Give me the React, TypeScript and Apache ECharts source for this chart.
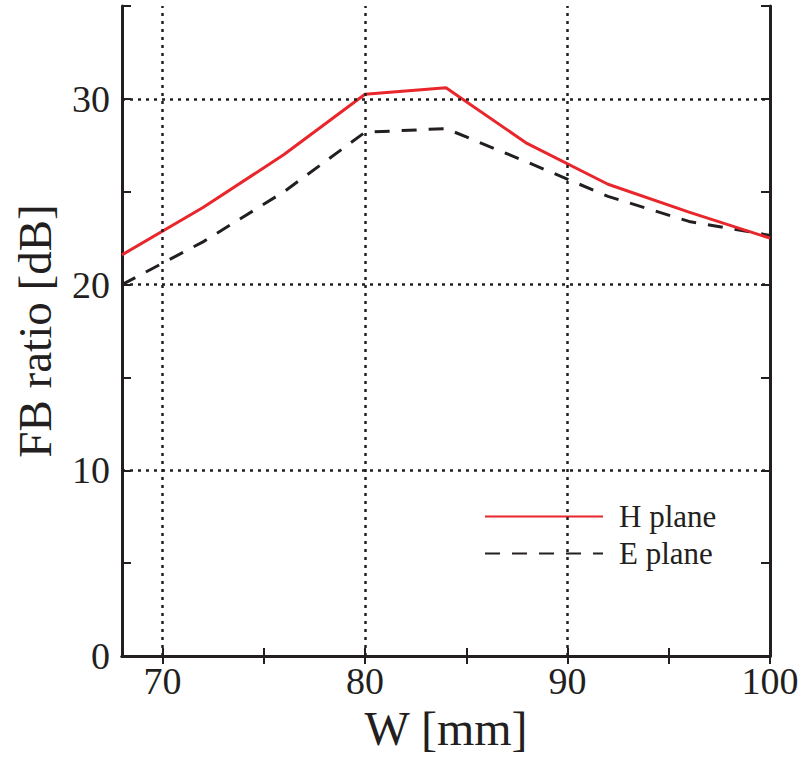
import React, { useEffect, useRef } from "react";
import * as echarts from "echarts";

const widths = [68, 72, 76, 80, 84, 88, 92, 96, 100];
const hPlane = [21.6, 24.15, 27.0, 30.25, 30.6, 27.6, 25.4, 23.9, 22.5];
const ePlane = [20.0, 22.3, 25.0, 28.2, 28.4, 26.6, 24.75, 23.4, 22.65];
const xLabelValues = [70, 80, 90, 100];
const xTickValues = [70, 75, 80, 85, 90, 95, 100];
const xGridValues = [70, 80, 90];
const yGridValues = [10, 20, 30];
const seriesNames = ["H plane", "E plane"];

const FONT = "'Liberation Serif', 'DejaVu Serif', serif";
const TXT = "#231f20";

export default function App() {
  const ref = useRef<HTMLDivElement>(null);
  useEffect(() => {
    if (!ref.current) return;
    const chart = echarts.init(ref.current, null, { renderer: "svg" });
    const axisLine = { show: true, lineStyle: { color: TXT, width: 3 } };
    const gridStyle = { color: TXT, width: 2.5, type: [3, 5] as any };
    chart.setOption({
      animation: false,
      backgroundColor: "#ffffff",
      grid: { left: 122, right: 36, top: 6, bottom: 113, containLabel: false },
      legend: {
        orient: "vertical",
        left: 479,
        top: 496,
        itemWidth: 118,
        itemHeight: 16,
        itemGap: 6,
        data: seriesNames,
        itemStyle: { opacity: 0 },
        textStyle: { fontFamily: FONT, fontSize: 31, color: TXT, padding: [0, 0, 0, 11] },
      },
      xAxis: [
        {
          type: "value",
          min: 68,
          max: 100,
          position: "bottom",
          name: "W [mm]",
          nameLocation: "middle",
          nameGap: 46,
          nameTextStyle: { fontFamily: FONT, fontSize: 48, color: TXT },
          axisLine,
          axisTick: { show: true, inside: true, length: 8, customValues: xTickValues, lineStyle: { color: TXT, width: 2 } },
          axisLabel: { customValues: xLabelValues, fontFamily: FONT, fontSize: 38, color: TXT, margin: 6 },
          splitLine: { show: false },
        },
        {
          type: "value",
          min: 68,
          max: 100,
          position: "top",
          axisLine,
          axisTick: { show: true, inside: true, length: 8, customValues: xTickValues, lineStyle: { color: TXT, width: 2 } },
          axisLabel: { show: false },
          splitLine: { show: false },
        },
      ],
      yAxis: [
        {
          type: "value",
          min: 0,
          max: 35,
          interval: 5,
          position: "left",
          name: "FB ratio [dB]",
          nameLocation: "middle",
          nameGap: 64,
          nameTextStyle: { fontFamily: FONT, fontSize: 47, color: TXT },
          axisLine,
          axisTick: { show: true, inside: true, length: 9, lineStyle: { color: TXT, width: 2 } },
          axisLabel: {
            fontFamily: FONT,
            fontSize: 38,
            color: TXT,
            margin: 12,
            formatter: (v: number) => (v % 10 === 0 ? String(v) : ""),
          },
          splitLine: { show: false },
        },
        {
          type: "value",
          min: 0,
          max: 35,
          interval: 5,
          position: "right",
          axisLine,
          axisTick: { show: true, inside: true, length: 9, lineStyle: { color: TXT, width: 2 } },
          axisLabel: { show: false },
          splitLine: { show: false },
        },
      ],
      series: [
        {
          name: "__grid",
          type: "line",
          data: [],
          z: 1,
          silent: true,
          markLine: {
            silent: true,
            symbol: "none",
            label: { show: false },
            animation: false,
            lineStyle: gridStyle,
            emphasis: { disabled: true },
            data: [
              ...xGridValues.map((v) => ({ xAxis: v })),
              ...yGridValues.map((v) => ({ yAxis: v })),
            ],
          },
        },
        {
          name: seriesNames[0],
          type: "line",
          z: 4,
          showSymbol: false,
          symbol: "none",
          data: widths.map((w, i) => [w, hPlane[i]]),
          lineStyle: { color: "#e8262b", width: 3 },
          itemStyle: { color: "#e8262b" },
        },
        {
          name: seriesNames[1],
          type: "line",
          z: 3,
          showSymbol: false,
          symbol: "none",
          data: widths.map((w, i) => [w, ePlane[i]]),
          lineStyle: { color: "#231f20", width: 3, type: [15, 12] },
          itemStyle: { color: "#231f20" },
        },
      ],
    });
    return () => chart.dispose();
  }, []);
  return <div ref={ref} style={{ width: 806, height: 769, position: "absolute", left: 0, top: 0 }} />;
}
